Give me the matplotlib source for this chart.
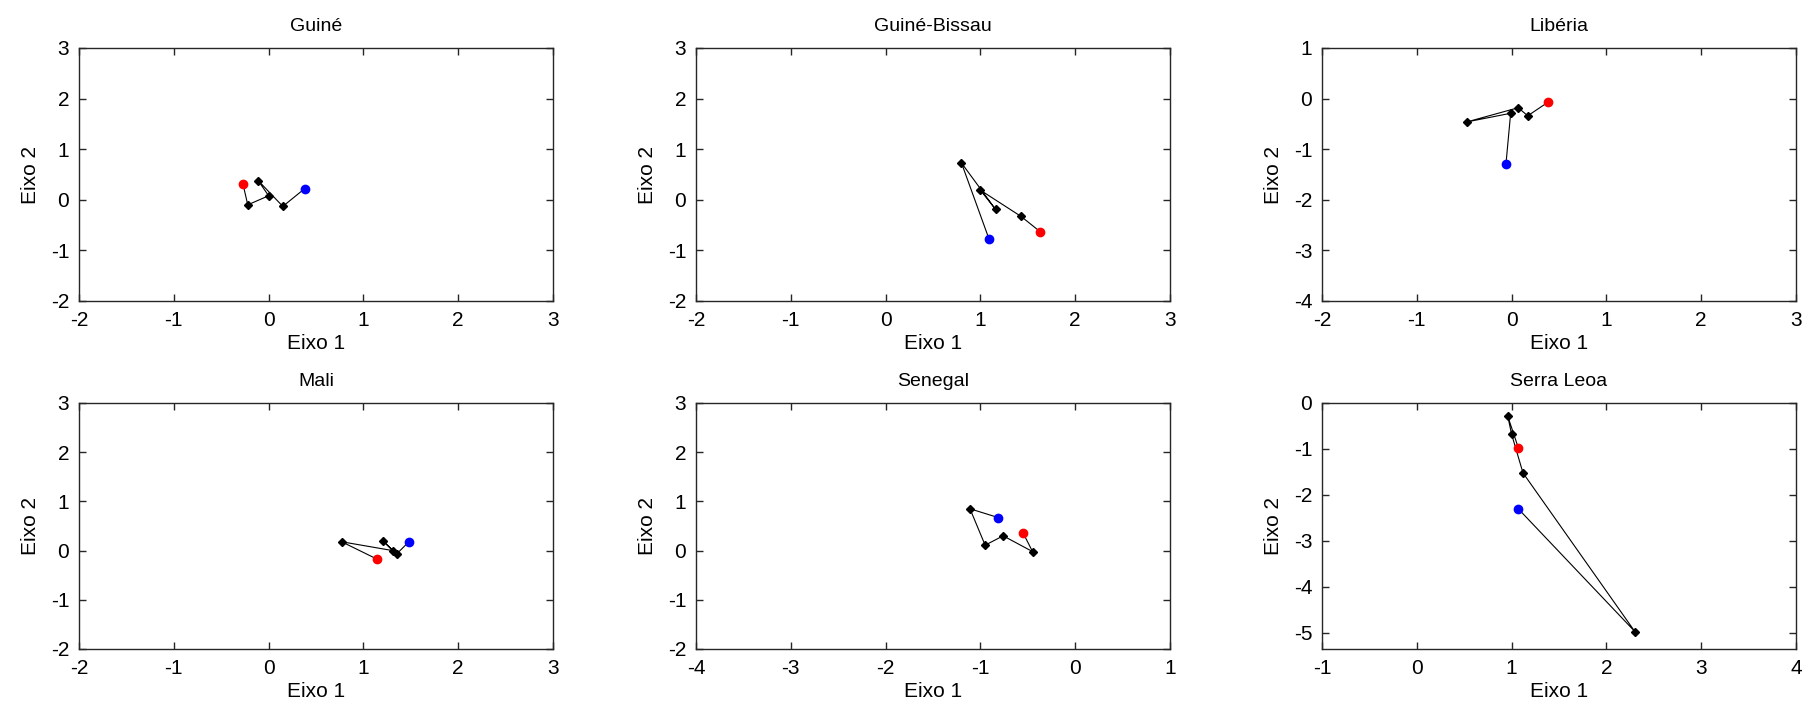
import matplotlib.pyplot as plt

plt.rcParams['font.family'] = ['Liberation Sans', 'DejaVu Sans']
plt.rcParams['axes.unicode_minus'] = False

# titulos dos paineis
paises = ['Guiné', 'Guiné-Bissau', 'Libéria', 'Mali', 'Senegal', 'Serra Leoa']

# trajetorias (Eixo 1, Eixo 2): primeiro ponto = vermelho, ultimo = azul
guine_x = [-0.27, -0.22, 0.00, -0.11, 0.15, 0.38]
guine_y = [0.31, -0.10, 0.08, 0.38, -0.13, 0.22]

bissau_x = [1.63, 1.43, 1.00, 1.16, 0.80, 1.09]
bissau_y = [-0.63, -0.33, 0.19, -0.19, 0.73, -0.77]

liberia_x = [0.385, 0.17, 0.07, -0.47, -0.01, -0.06]
liberia_y = [-0.07, -0.34, -0.18, -0.46, -0.29, -1.30]

mali_x = [1.14, 0.77, 1.31, 1.21, 1.35, 1.48]
mali_y = [-0.17, 0.18, 0.00, 0.19, -0.07, 0.18]

senegal_x = [-0.55, -0.45, -0.76, -0.95, -1.11, -0.81]
senegal_y = [0.36, -0.02, 0.30, 0.11, 0.85, 0.67]

leoa_x = [1.07, 0.96, 1.00, 1.12, 2.30, 1.07]
leoa_y = [-0.97, -0.29, -0.68, -1.52, -4.97, -2.30]

dados_x = [guine_x, bissau_x, liberia_x, mali_x, senegal_x, leoa_x]
dados_y = [guine_y, bissau_y, liberia_y, mali_y, senegal_y, leoa_y]

xlims = [(-2, 3), (-2, 3), (-2, 3), (-2, 3), (-4, 1), (-1, 4)]
ylims = [(-2, 3), (-2, 3), (-4, 1), (-2, 3), (-2, 3), (-5.35, 0)]

W, H = 1805, 715
fig = plt.figure(figsize=(W / 100, H / 100), dpi=100)

lefts = [79, 696, 1322]
largura = 474
linhas = [(48, 301), (403, 649)]  # topo, base em pixels

for i in range(6):
    lin, col = divmod(i, 3)
    topo, base = linhas[lin]
    ax = fig.add_axes([lefts[col] / W, (H - base) / H, largura / W, (base - topo) / H])
    x = dados_x[i]
    y = dados_y[i]
    ax.plot(x, y, '-', color='black', lw=0.8)
    ax.plot(x[1:-1], y[1:-1], 'D', color='black', ms=4)
    ax.plot(x[0], y[0], 'o', color='red', ms=6)
    ax.plot(x[-1], y[-1], 'o', color='blue', ms=6)

    x0, x1 = xlims[i]
    y0, y1 = ylims[i]
    ax.set_xlim(x0, x1)
    ax.set_ylim(y0, y1)
    ax.set_xticks(range(x0, x1 + 1))
    ax.set_yticks(range(int(y0), int(y1) + 1))
    ax.tick_params(direction='in', top=True, right=True, length=5, width=1,
                   labelsize=15, pad=7, colors='#262626', labelcolor='black')
    for s in ax.spines.values():
        s.set_linewidth(1.0)
        s.set_color('#262626')
    ax.set_title(paises[i], fontsize=14, pad=12)
    ax.set_xlabel('Eixo 1', fontsize=15, labelpad=3)
    ax.set_ylabel('Eixo 2', fontsize=15, labelpad=8)

plt.savefig('out.png', dpi=100)
